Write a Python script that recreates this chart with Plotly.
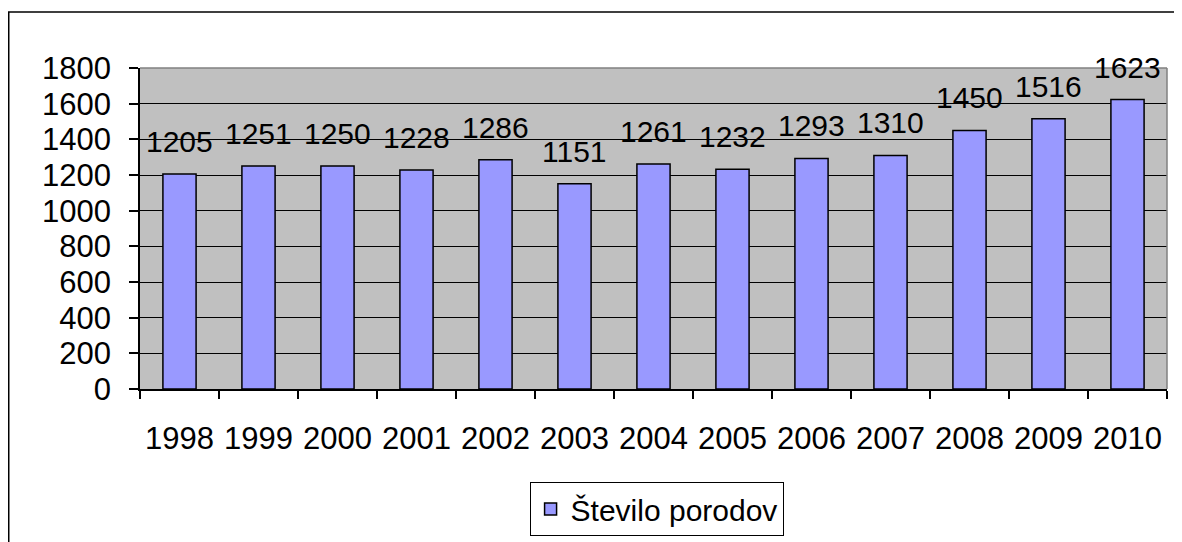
import plotly.graph_objects as go

years = ['1998', '1999', '2000', '2001', '2002', '2003', '2004',
         '2005', '2006', '2007', '2008', '2009', '2010']
births = [1205, 1251, 1250, 1228, 1286, 1151, 1261, 1232, 1293, 1310, 1450, 1516, 1623]
series_name = 'Število porodov'

font_family = 'Liberation Sans, Arial, sans-serif'

fig = go.Figure()

fig.add_trace(go.Bar(
    x=years,
    y=births,
    name=series_name,
    marker=dict(color='#9999FF', line=dict(color='black', width=1.5)),
    showlegend=True
))

# value labels above the bars (x given as category index)
labels = []
for i, v in enumerate(births):
    labels.append(dict(
        x=i, y=v, xref='x', yref='y',
        text=str(v), showarrow=False,
        yanchor='bottom', yshift=14,
        font=dict(size=30, color='black', family=font_family),
    ))

# page body has an 8px margin, so the figure is 8px smaller than the window
fig.update_layout(
    width=1174,
    height=534,
    margin=dict(l=132, r=15, t=60, b=153, autoexpand=False),
    paper_bgcolor='white',
    plot_bgcolor='#C0C0C0',
    font=dict(family=font_family, size=30, color='black'),
    bargap=0.58,
    showlegend=True,
    annotations=labels,
    legend=dict(
        orientation='h',
        x=0.503, xanchor='center',
        y=-0.29, yanchor='top',
        bordercolor='black', borderwidth=1,
        bgcolor='white',
        font=dict(size=30, family=font_family, color='black'),
    ),
    xaxis=dict(
        type='category',
        automargin=False,
        range=[-0.5, len(years) - 0.5],
        showline=True, linecolor='black', linewidth=1.5,
        ticks='outside', tickson='boundaries', ticklen=8,
        tickcolor='black', tickwidth=1.5,
        ticklabelstandoff=21,
        showgrid=False,
        tickfont=dict(size=31),
    ),
    yaxis=dict(
        automargin=False,
        range=[0, 1800], dtick=200,
        showline=True, linecolor='black', linewidth=1.5,
        ticks='outside', ticklen=9, tickcolor='black', tickwidth=1.5,
        ticklabelstandoff=12,
        showgrid=True, gridcolor='black', gridwidth=1,
        zeroline=False,
        tickfont=dict(size=31),
    ),
    shapes=[
        # outer chart frame
        dict(type='rect', xref='paper', yref='paper',
             x0=-0.1278, y0=-0.7, x1=1.2, y1=1.1745,
             line=dict(color='black', width=1.5), fillcolor='rgba(0,0,0,0)',
             layer='above'),
        # plot area border (top/right grey)
        dict(type='line', xref='paper', yref='paper', x0=0, x1=1, y0=1, y1=1,
             line=dict(color='#808080', width=1.5)),
        dict(type='line', xref='paper', yref='paper', x0=1, x1=1, y0=0, y1=1,
             line=dict(color='#808080', width=1.5)),
    ],
)

fig.write_html("out.html")
